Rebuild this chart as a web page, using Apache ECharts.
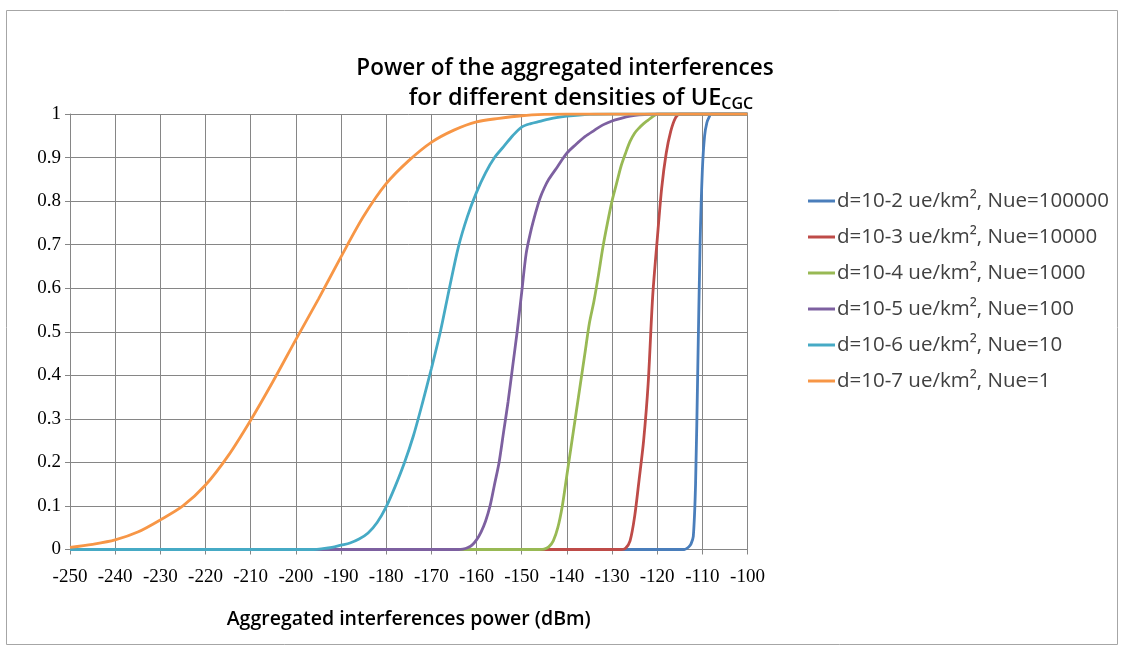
<!DOCTYPE html>
<html>
<head>
<meta charset="utf-8">
<script src="https://cdn.jsdelivr.net/npm/echarts@6/dist/echarts.min.js"></script>
<style>
html,body{margin:0;padding:0;background:#fff;}
#chart{width:1123px;height:653px;}
</style>
</head>
<body>
<div id="chart"></div>
<script>
const seriesNames = [
  'd=10-2 ue/km², Nue=100000',
  'd=10-3 ue/km², Nue=10000',
  'd=10-4 ue/km², Nue=1000',
  'd=10-5 ue/km², Nue=100',
  'd=10-6 ue/km², Nue=10',
  'd=10-7 ue/km², Nue=1'
];
const seriesColors = ['#4A7EBB', '#BE4B48', '#98B954', '#7D60A0', '#46AAC5', '#F79646'];

const blueX = [-250,-114,-113.5,-113,-112.5,-112,-111.5,-111,-110.5,-110,-109.5,-109,-108.5,-108,-100];
const blueY = [0,0,0.002,0.006,0.013,0.03,0.15,0.42,0.7,0.87,0.95,0.98,0.993,1,1];

const redX = [-250,-128,-127,-126,-125,-124,-123,-122,-121,-120,-119,-118,-117,-116,-115,-100];
const redY = [0,0,0.003,0.02,0.075,0.16,0.25,0.38,0.58,0.71,0.83,0.91,0.96,0.99,1,1];

const greenX = [-250,-146,-145,-144,-143,-142,-141,-140,-139,-138,-137,-136,-135,-134,-133,-132,-131,-130,-129,-128,-127,-126,-125,-124,-123,-122,-121,-120,-100];
const greenY = [0,0,0.001,0.006,0.02,0.05,0.1,0.17,0.24,0.31,0.38,0.45,0.52,0.57,0.63,0.695,0.75,0.8,0.84,0.88,0.91,0.937,0.956,0.968,0.978,0.986,0.994,1,1];

const purpleX = [-250,-164,-163,-162,-161,-160,-159,-158,-157,-156,-155,-154,-153,-152,-151,-150,-149,-148,-147,-146,-145,-144,-142,-140,-138,-136,-134,-132,-130,-128,-126,-124,-120,-100];
const purpleY = [0,0,0.001,0.004,0.01,0.022,0.04,0.065,0.1,0.15,0.2,0.27,0.34,0.42,0.5,0.59,0.68,0.73,0.77,0.805,0.83,0.85,0.88,0.91,0.93,0.948,0.962,0.975,0.984,0.99,0.995,0.998,1,1];

const tealX = [-250,-196,-194,-192,-190,-188,-186,-184,-182,-180,-178,-176,-174,-172,-170,-168,-166,-164,-162,-160,-158,-156,-154,-152,-150,-148,-146,-144,-142,-140,-135,-130,-100];
const tealY = [0,0,0.002,0.005,0.01,0.015,0.024,0.038,0.062,0.098,0.145,0.198,0.26,0.335,0.415,0.5,0.6,0.695,0.765,0.82,0.865,0.9,0.925,0.95,0.97,0.978,0.983,0.988,0.992,0.995,0.999,1,1];

const orangeX = [-250,-245,-240,-235,-230,-225,-220,-215,-210,-205,-200,-195,-190,-185,-180,-175,-170,-165,-160,-155,-150,-145,-140,-100];
const orangeY = [0.005,0.012,0.022,0.04,0.068,0.1,0.148,0.215,0.297,0.387,0.482,0.575,0.672,0.765,0.84,0.893,0.935,0.963,0.982,0.99,0.996,0.999,1,1];

const xMin = -250, xMax = -100, xStep = 10;
const yMin = 0, yMax = 1, yStep = 0.1;

const titleLine1 = 'Power of the aggregated interferences';
const titleLine2 = 'for different densities of UE{sub|CGC}';
const xAxisTitle = 'Aggregated interferences power (dBm)';

const allX = [blueX, redX, greenX, purpleX, tealX, orangeX];
const allY = [blueY, redY, greenY, purpleY, tealY, orangeY];

const chart = echarts.init(document.getElementById('chart'));
const sansFont = 'Open Sans';
const option = {
  backgroundColor: '#ffffff',
  animation: false,
  graphic: [{
    type: 'rect', silent: true, z: -10,
    shape: {x: 6.5, y: 10.5, width: 1111, height: 634},
    style: {fill: 'none', stroke: '#a6a6a6', lineWidth: 1}
  }],
  title: [{
    text: titleLine1,
    left: 560, top: 52, textAlign: 'center',
    textStyle: {fontFamily: sansFont, fontSize: 22.5, fontWeight: 600, color: '#000'}
  }, {
    text: titleLine2,
    left: 576, top: 80, textAlign: 'center',
    textStyle: {fontFamily: sansFont, fontSize: 23.5, fontWeight: 600, color: '#000',
      rich: {sub: {fontFamily: sansFont, fontSize: 16, fontWeight: 600, color: '#000', verticalAlign: 'bottom', padding: [11, 0, 0, 0]}}}
  }],
  legend: {
    orient: 'vertical', left: 803, top: 185,
    icon: 'rect',
    itemWidth: 27, itemHeight: 3, itemGap: 14,
    textStyle: {fontFamily: sansFont, fontSize: 20.5, lineHeight: 22, color: '#404040', padding: [0, 0, 0, -3]},
    data: seriesNames
  },
  grid: {left: 70, right: 375.5, top: 114, bottom: 103.5, containLabel: false},
  xAxis: {
    type: 'value', min: xMin, max: xMax, interval: xStep,
    name: xAxisTitle, nameLocation: 'middle', nameGap: 60,
    nameTextStyle: {fontFamily: sansFont, fontSize: 19.5, fontWeight: 600, color: '#000'},
    axisLine: {show: true, lineStyle: {color: '#868686', width: 1}},
    axisTick: {show: true, length: 5, lineStyle: {color: '#868686'}},
    axisLabel: {fontFamily: 'Liberation Serif', fontSize: 19, color: '#000', margin: 18},
    splitLine: {show: true, lineStyle: {color: '#868686', width: 1}}
  },
  yAxis: {
    type: 'value', min: yMin, max: yMax, interval: yStep,
    axisLine: {show: true, lineStyle: {color: '#868686', width: 1}},
    axisTick: {show: true, length: 5, lineStyle: {color: '#868686'}},
    axisLabel: {fontFamily: 'Liberation Serif', fontSize: 19, color: '#000', margin: 9,
      formatter: v => String(Math.round(v * 10) / 10)},
    splitLine: {show: true, lineStyle: {color: '#868686', width: 1}}
  },
  series: seriesNames.map((name, i) => ({
    name: name,
    type: 'line',
    data: allX[i].map((x, j) => [x, allY[i][j]]),
    showSymbol: false,
    symbol: 'none',
    smooth: 0.3,
    lineStyle: {color: seriesColors[i], width: 2.8},
    itemStyle: {color: seriesColors[i]},
    z: 2 + i
  }))
};
chart.setOption(option);
</script>
</body>
</html>
